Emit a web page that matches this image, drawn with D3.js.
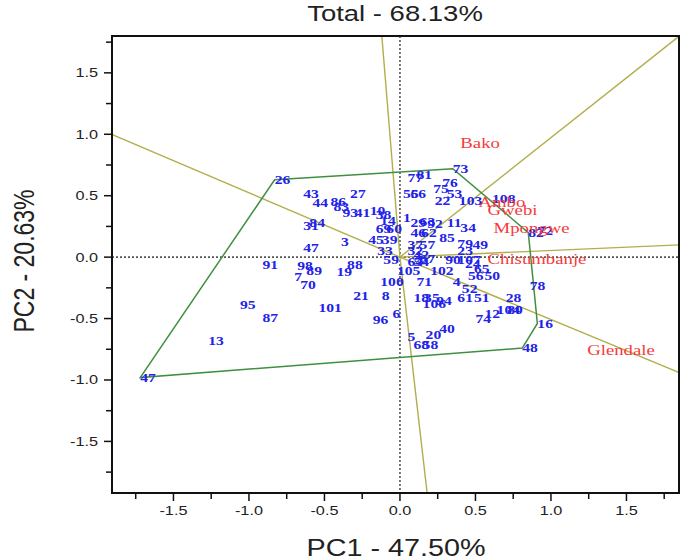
<!DOCTYPE html>
<html><head><meta charset="utf-8">
<script src="https://cdn.jsdelivr.net/npm/d3@7"></script>
<style>html,body{margin:0;padding:0;background:#fff}</style>
</head><body>
<svg id="chart" width="685" height="560"></svg>
<script>
// ---- data (biplot coordinates, PC1 / PC2) ----
const title = "Total - 68.13%";
const xTitle = "PC1 - 47.50%";
const yTitle = "PC2 - 20.63%";
const xTickVals = [-1.5, -1.0, -0.5, 0.0, 0.5, 1.0, 1.5];
const yTickVals = [-1.5, -1.0, -0.5, 0.0, 0.5, 1.0, 1.5];
const minorTickVals = [-1.75,-1.25,-0.75,-0.25,0.25,0.75,1.25,1.75];

const genoNames = ["26","43","27","44","86","83","93","41","31","84","47","3","45","39","69","60","33","59","10","38","14","1","29","63","92","11","34","46","62","85","79","49","23","37","57","32","42","64","54","67","88","19","91","98","89","7","70","95","87","13","100","105","21","8","101","96","6","5","68","58","20","40","71","18","35","106","94","61","51","4","52","28","74","12","104","80","78","16","48","47","56","50","65","24","102","90","107","73","77","81","55","66","76","75","53","22","103","108","82","72"];
const genoPC1 = [-0.83,-0.64,-0.33,-0.58,-0.46,-0.44,-0.38,-0.30,-0.64,-0.60,-0.64,-0.39,-0.21,-0.12,-0.16,-0.09,-0.15,-0.11,-0.20,-0.16,-0.13,0.02,0.07,0.13,0.18,0.31,0.40,0.07,0.14,0.26,0.38,0.48,0.38,0.05,0.13,0.05,0.09,0.05,0.09,0.13,-0.35,-0.42,-0.91,-0.68,-0.62,-0.70,-0.66,-1.06,-0.91,-1.27,-0.13,-0.02,-0.31,-0.12,-0.54,-0.18,-0.05,0.05,0.09,0.15,0.17,0.26,0.11,0.09,0.16,0.15,0.24,0.38,0.49,0.35,0.41,0.70,0.50,0.56,0.64,0.71,0.86,0.91,0.81,-1.72,0.45,0.56,0.49,0.43,0.20,0.30,0.38,0.35,0.05,0.11,0.02,0.07,0.28,0.22,0.31,0.23,0.39,0.61,0.85,0.91];
const genoPC2 = [0.63,0.52,0.52,0.44,0.45,0.41,0.36,0.36,0.26,0.28,0.08,0.13,0.14,0.14,0.23,0.23,0.05,-0.02,0.38,0.35,0.30,0.32,0.28,0.29,0.27,0.28,0.24,0.20,0.20,0.16,0.11,0.10,0.05,0.10,0.10,0.05,0.02,-0.04,-0.04,-0.01,-0.06,-0.12,-0.06,-0.07,-0.11,-0.16,-0.22,-0.39,-0.49,-0.68,-0.20,-0.11,-0.31,-0.31,-0.41,-0.51,-0.46,-0.65,-0.71,-0.71,-0.63,-0.58,-0.20,-0.33,-0.33,-0.38,-0.35,-0.33,-0.33,-0.20,-0.26,-0.33,-0.50,-0.46,-0.43,-0.43,-0.23,-0.54,-0.74,-0.98,-0.15,-0.15,-0.09,-0.05,-0.11,-0.02,-0.02,0.72,0.65,0.67,0.52,0.52,0.61,0.56,0.52,0.46,0.46,0.48,0.20,0.22];

const envNames = ["Bako","Ambo","Gwebi","Mpongwe","Chisumbanje","Glendale"];
const envPC1 = [0.40, 0.52, 0.58, 0.62, 0.58, 1.24];
const envPC2 = [0.93, 0.45, 0.38, 0.24, -0.02, -0.76];

// polygon vertices (winning genotypes): 26, 73, 82, 16, 48, 47
const polyPC1 = [-0.83, 0.35, 0.85, 0.91, 0.81, -1.72];
const polyPC2 = [0.63, 0.72, 0.20, -0.54, -0.74, -0.98];

// rays from origin (end points on the plot frame)
const rayPC1 = [-0.12, 1.85, 1.85, 1.85, 0.18, -1.91];
const rayPC2 = [1.80, 1.80, 0.10, -0.94, -1.92, 1.00];

// ---- drawing ----
const SX = 1.25; // horizontal stretch of the original picture's text
const svg = d3.select("#chart");
const x = d3.scaleLinear().domain([-1.907, 1.848]).range([112, 679]);
const y = d3.scaleLinear().domain([-1.92, 1.80]).range([493, 36]);

function txt(g, px, py, s, opts) {
  return g.append("text")
    .attr("transform", `translate(${px},${py}) scale(${SX},1)` + (opts.rotate ? ` rotate(${opts.rotate})` : ""))
    .attr("text-anchor", opts.anchor || "start")
    .attr("dominant-baseline", "central")
    .attr("font-family", opts.family || "Liberation Sans, Arial, sans-serif")
    .attr("font-size", opts.size || 13)
    .attr("font-weight", opts.weight || "normal")
    .attr("fill", opts.fill || "#222")
    .text(s);
}

const plot = svg.append("g");
svg.append("clipPath").attr("id", "clip").append("rect")
  .attr("x", x.range()[0]).attr("y", y.range()[1])
  .attr("width", x.range()[1] - x.range()[0]).attr("height", y.range()[0] - y.range()[1]);

// zero reference lines
plot.append("line").attr("x1", x(0)).attr("x2", x(0)).attr("y1", y.range()[1]).attr("y2", y.range()[0])
  .attr("stroke", "#555").attr("stroke-width", 1.6).attr("stroke-dasharray", "2,2");
plot.append("line").attr("y1", y(0)).attr("y2", y(0)).attr("x1", x.range()[0]).attr("x2", x.range()[1])
  .attr("stroke", "#555").attr("stroke-width", 1.6).attr("stroke-dasharray", "2,2");

// rays
const rays = plot.append("g").attr("clip-path", "url(#clip)");
rayPC1.forEach((rx, i) => {
  rays.append("line").attr("x1", x(0)).attr("y1", y(0)).attr("x2", x(rx)).attr("y2", y(rayPC2[i]))
    .attr("stroke", "#b3ad4c").attr("stroke-width", 1.4);
});

// polygon
const polyPts = polyPC1.map((px, i) => [x(px), y(polyPC2[i])]);
plot.append("path").attr("d", d3.line()(polyPts) + "Z")
  .attr("fill", "none").attr("stroke", "#3f8f3f").attr("stroke-width", 1.5);

// genotype labels
const gl = plot.append("g");
genoNames.forEach((n, i) => {
  txt(gl, x(genoPC1[i]), y(genoPC2[i]), n, {family: "Liberation Serif, Times New Roman, serif", size: 12.5, weight: "bold", fill: "#2222e8"});
});

// environment labels
const el = plot.append("g");
envNames.forEach((n, i) => {
  txt(el, x(envPC1[i]), y(envPC2[i]), n, {family: "Liberation Serif, Times New Roman, serif", size: 15, fill: "#f53b3b"});
});

// frame
svg.append("rect").attr("x", x.range()[0]).attr("y", y.range()[1])
  .attr("width", x.range()[1] - x.range()[0]).attr("height", y.range()[0] - y.range()[1])
  .attr("fill", "none").attr("stroke", "#111").attr("stroke-width", 2);

// axes ticks
const xb = y.range()[0], yl = x.range()[0];
const ax = svg.append("g").attr("stroke", "#111").attr("stroke-width", 1.5);
xTickVals.forEach(v => ax.append("line").attr("x1", x(v)).attr("x2", x(v)).attr("y1", xb).attr("y2", xb + 8));
minorTickVals.forEach(v => ax.append("line").attr("x1", x(v)).attr("x2", x(v)).attr("y1", xb).attr("y2", xb + 6));
yTickVals.forEach(v => ax.append("line").attr("y1", y(v)).attr("y2", y(v)).attr("x1", yl).attr("x2", yl - 8));
minorTickVals.forEach(v => ax.append("line").attr("y1", y(v)).attr("y2", y(v)).attr("x1", yl).attr("x2", yl - 6));

const fmt = v => v.toFixed(1);
xTickVals.forEach(v => txt(svg, x(v), 511, fmt(v), {anchor: "middle", size: 13}));
yTickVals.forEach(v => txt(svg, yl - 14, y(v), fmt(v), {anchor: "end", size: 13}));

// titles
txt(svg, 395, 13, title, {anchor: "middle", size: 22});
txt(svg, 396, 548, xTitle, {anchor: "middle", size: 23});
txt(svg, 24, 261, yTitle, {anchor: "middle", size: 23, rotate: -90});
</script>
</body></html>
